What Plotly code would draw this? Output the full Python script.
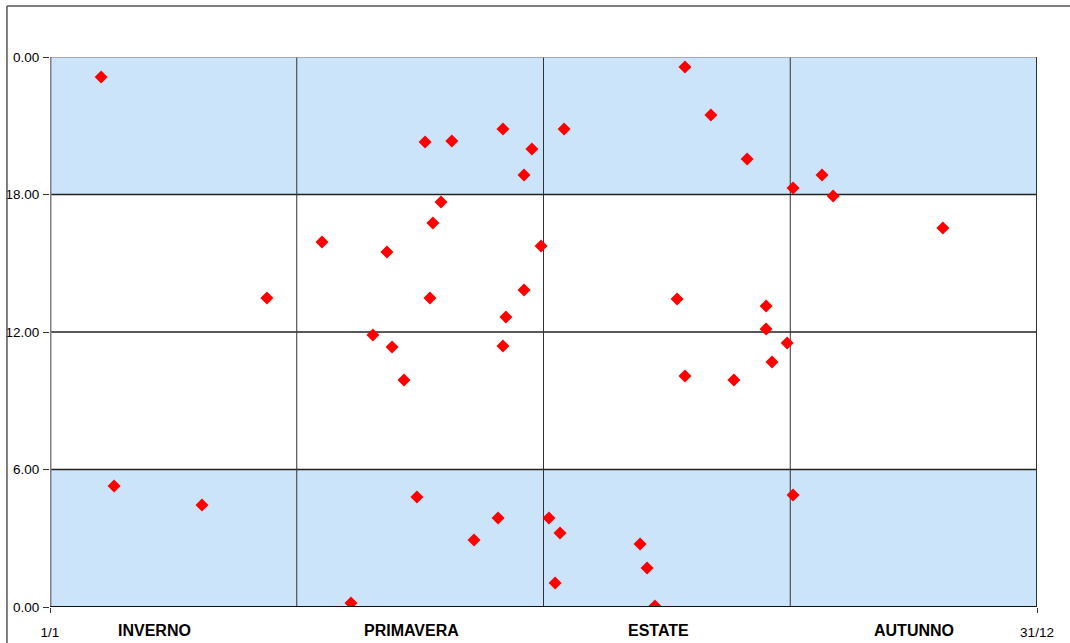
import plotly.graph_objects as go

# Day of year (0 = 1/1, 365 = 31/12) and hour of day of each event
days = [18.9, 23.7, 56.2, 80.2, 100.6, 111.3, 119.4, 124.6, 126.5, 130.9,
        135.7, 138.7, 140.5, 141.6, 144.6, 148.6, 156.8, 165.7, 167.5, 167.5,
        168.6, 175.3, 175.3, 178.2, 181.6, 184.5, 186.8, 188.6, 190.1, 218.2,
        220.8, 223.7, 231.9, 234.8, 234.8, 244.4, 252.9, 257.8, 264.8, 264.8,
        267.0, 272.6, 274.8, 274.8, 285.5, 289.6, 330.2]
hours = [23.13, 5.28, 4.45, 13.48, 15.93, 0.17, 11.87, 15.49, 11.35, 9.91,
         4.80, 20.29, 13.48, 16.76, 17.67, 20.33, 2.92, 3.88, 20.86, 11.39,
         12.65, 13.83, 18.85, 19.99, 15.75, 3.88, 1.05, 3.23, 20.86, 2.75,
         1.70, 0.04, 13.44, 23.56, 10.08, 21.47, 9.91, 19.55, 13.13, 12.13,
         10.69, 11.52, 18.28, 4.89, 18.85, 17.93, 16.54]

y_ticks = [0, 6, 12, 18, 24]
y_labels = ["0.00", "6.00", "12.00", "18.00", "0.00"]
x_ticks = [0, 365]
x_labels = ["1/1", "31/12"]
season_bounds = [91.25, 182.5, 273.75]
season_names = ["INVERNO", "PRIMAVERA", "ESTATE", "AUTUNNO"]
season_label_x = [38.8, 133.5, 225.0, 319.5]
night_bands = [(0, 6), (18, 24)]

fig = go.Figure()

shapes = []
for y0, y1 in night_bands:
    shapes.append(dict(type="rect", xref="x", yref="y", x0=0, x1=365, y0=y0, y1=y1,
                       fillcolor="#cce4fa", line=dict(width=0), layer="below"))
for yv in [6, 12, 18]:
    shapes.append(dict(type="line", xref="x", yref="y", x0=0, x1=365, y0=yv, y1=yv,
                       line=dict(color="#222222", width=1.3), layer="below"))
for xv in season_bounds:
    shapes.append(dict(type="line", xref="x", yref="y", x0=xv, x1=xv, y0=0, y1=24,
                       line=dict(color="#333333", width=1), layer="below"))
# plot frame
shapes.append(dict(type="line", xref="x", yref="y", x0=0, x1=365, y0=24, y1=24,
                   line=dict(color="#999999", width=1.5)))
shapes.append(dict(type="line", xref="x", yref="y", x0=365, x1=365, y0=0, y1=24,
                   line=dict(color="#333333", width=2)))
shapes.append(dict(type="line", xref="x", yref="y", x0=0, x1=0, y0=0, y1=24,
                   line=dict(color="#808080", width=3)))
shapes.append(dict(type="line", xref="x", yref="y", x0=0, x1=365, y0=0, y1=0,
                   line=dict(color="#111111", width=2)))
# outer chart frame
shapes.append(dict(type="line", xref="paper", yref="paper", x0=-0.0436, x1=-0.0436,
                   y0=-0.08, y1=1.0927, line=dict(color="#555555", width=1.5)))
shapes.append(dict(type="line", xref="paper", yref="paper", x0=-0.0436, x1=1.05,
                   y0=1.0927, y1=1.0927, line=dict(color="#555555", width=1.5)))

fig.add_trace(go.Scatter(
    x=days, y=hours, mode="markers",
    marker=dict(symbol="diamond", size=10, color="#ff0000", line=dict(width=0)),
    hoverinfo="x+y", showlegend=False))

annotations = []
for name, xv in zip(season_names, season_label_x):
    annotations.append(dict(x=xv, y=0, xref="x", yref="y", text="<b>%s</b>" % name,
                            showarrow=False, yanchor="middle", yshift=-23,
                            font=dict(family="Liberation Sans, Arial", size=16, color="#000")))

fig.update_layout(
    width=1070, height=643,
    margin=dict(l=50, r=33, t=57, b=36),
    paper_bgcolor="white", plot_bgcolor="white",
    shapes=shapes, annotations=annotations,
    font=dict(family="Liberation Sans, Arial", size=13.5, color="#000"),
    xaxis=dict(range=[0, 365], tickvals=x_ticks, ticktext=x_labels, showgrid=False,
               zeroline=False, ticks="outside", ticklen=5, tickcolor="#333",
               ticklabelstandoff=8, showline=False, fixedrange=True, automargin=False),
    yaxis=dict(range=[0, 24], tickvals=y_ticks, ticktext=y_labels, showgrid=False,
               zeroline=False, ticks="outside", ticklen=6, tickcolor="#333",
               ticklabelstandoff=1, showline=False, fixedrange=True, automargin=False),
)

fig.write_html("out.html", config={"displayModeBar": False},
               post_script="document.body.style.margin='0';")
